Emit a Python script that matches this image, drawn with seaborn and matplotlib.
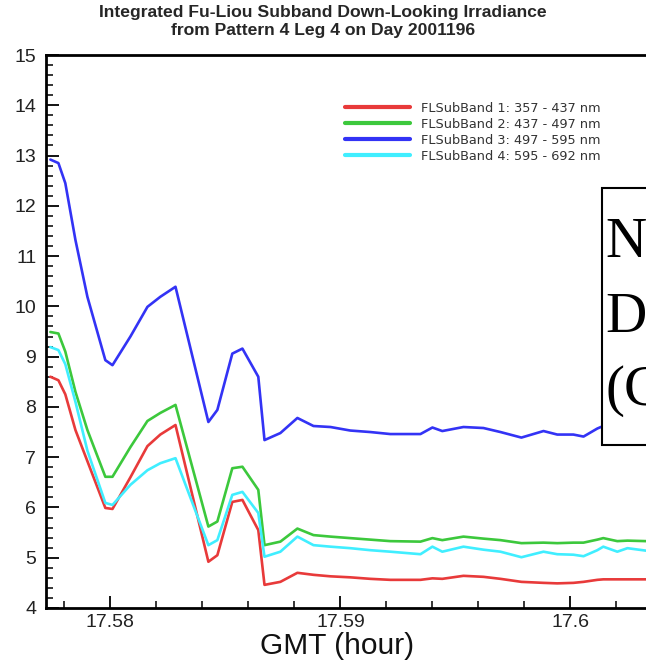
import numpy as np
import pandas as pd
import matplotlib
matplotlib.use('Agg')
import matplotlib.pyplot as plt
import matplotlib.ticker as mticker
from matplotlib.patches import Rectangle
import seaborn as sns

# GMT time (hour) of the samples
gmt = [17.57739, 17.57774, 17.57804, 17.57848, 17.57900, 17.57978, 17.58009,
       17.58087, 17.58161, 17.58217, 17.58283, 17.58426, 17.58465, 17.58530,
       17.58574, 17.58643, 17.58670, 17.58739, 17.58813, 17.58883, 17.58957,
       17.59043, 17.59130, 17.59217, 17.59348, 17.59400, 17.59443, 17.59535,
       17.59622, 17.59696, 17.59787, 17.59883, 17.59943, 17.60013, 17.60057,
       17.60117, 17.60143, 17.60204, 17.60248, 17.60330, 17.60480]

band1 = [8.60, 8.53, 8.25, 7.54, 6.92, 5.99, 5.97, 6.60, 7.22, 7.45, 7.64,
         4.92, 5.05, 6.11, 6.15, 5.55, 4.46, 4.52, 4.70, 4.66, 4.63, 4.61,
         4.58, 4.56, 4.56, 4.59, 4.58, 4.64, 4.62, 4.58, 4.52, 4.50, 4.49,
         4.50, 4.52, 4.56, 4.57, 4.57, 4.57, 4.57, 4.57]
band2 = [9.49, 9.46, 9.10, 8.30, 7.54, 6.61, 6.61, 7.20, 7.72, 7.88, 8.04,
         5.62, 5.72, 6.78, 6.81, 6.35, 5.25, 5.32, 5.58, 5.45, 5.42, 5.39,
         5.36, 5.33, 5.32, 5.39, 5.35, 5.42, 5.38, 5.35, 5.29, 5.30, 5.29,
         5.30, 5.30, 5.36, 5.39, 5.33, 5.34, 5.33, 5.33]
band3 = [12.92, 12.85, 12.45, 11.32, 10.19, 8.93, 8.83, 9.40, 9.99, 10.19,
         10.39, 7.70, 7.94, 9.06, 9.16, 8.60, 7.34, 7.48, 7.78, 7.62, 7.60,
         7.53, 7.50, 7.46, 7.46, 7.59, 7.52, 7.60, 7.58, 7.50, 7.39, 7.52,
         7.45, 7.45, 7.41, 7.57, 7.62, 7.65, 7.62, 7.65, 7.65]
band4 = [9.19, 9.13, 8.85, 8.10, 7.13, 6.09, 6.05, 6.45, 6.74, 6.88, 6.98,
         5.25, 5.35, 6.25, 6.31, 5.89, 5.02, 5.12, 5.42, 5.25, 5.22, 5.19,
         5.15, 5.12, 5.07, 5.22, 5.12, 5.22, 5.16, 5.12, 5.01, 5.12, 5.07,
         5.06, 5.03, 5.15, 5.22, 5.12, 5.19, 5.14, 5.14]

labels = ['FLSubBand 1: 357 - 437 nm', 'FLSubBand 2: 437 - 497 nm',
          'FLSubBand 3: 497 - 595 nm', 'FLSubBand 4: 595 - 692 nm']
colors = ['#e83a3a', '#3cc83c', '#3333f5', '#40eeff']

xticks = [17.58, 17.59, 17.60]
xticklabels = ['17.58', '17.59', '17.6']
yticks = list(range(4, 16))

df = pd.concat([pd.DataFrame({'gmt': gmt, 'irr': v, 'band': lab})
                for v, lab in zip([band1, band2, band3, band4], labels)])

sns.set_theme(style='ticks')
plt.rcParams['font.family'] = ['Liberation Sans', 'DejaVu Sans']

W, H = 646, 667
fig = plt.figure(figsize=(W / 100, H / 100), dpi=100)
# axes run past the right edge of the picture, as in the reference crop
ax = fig.add_axes([46 / W, 59 / H, 690 / W, 553 / H])

sns.lineplot(data=df, x='gmt', y='irr', hue='band', palette=dict(zip(labels, colors)),
             hue_order=labels, estimator=None, sort=False, lw=1.9, ax=ax)

ax.set_xlim(17.5772, 17.6072)
ax.set_ylim(4, 15)
ax.set_xticks(xticks)
ax.set_xticklabels(xticklabels)
ax.set_yticks(yticks)
ax.xaxis.set_minor_locator(mticker.MultipleLocator(0.002))
ax.yaxis.set_minor_locator(mticker.MultipleLocator(0.2))
ax.tick_params(which='both', direction='in', color='black', labelcolor='#222222',
               labelsize=14)
ax.tick_params(which='major', length=9, width=1.3)
ax.tick_params(which='minor', length=5, width=1.1)
ax.tick_params(axis='x', pad=4)
ax.tick_params(axis='y', pad=7)
for s in ['left', 'bottom', 'top']:
    ax.spines[s].set_linewidth(2)
    ax.spines[s].set_color('black')
ax.set_ylabel('')
ax.set_xlabel('GMT (hour)', fontsize=21.5, color='#111111')
ax.xaxis.set_label_coords((337 - 46) / 690, -0.043)

ax.legend(loc='upper left', bbox_to_anchor=(345 / W, 1 - 102 / H),
          bbox_transform=fig.transFigure, frameon=False,
          prop={'family': 'DejaVu Sans', 'size': 9.3},
          handlelength=5.0, handletextpad=0.9, labelspacing=0.22,
          borderpad=0, borderaxespad=0, labelcolor='#333333')
for line in ax.get_legend().get_lines():
    line.set_linewidth(3)

fig.suptitle('Integrated Fu-Liou Subband Down-Looking Irradiance\n'
             'from Pattern 4 Leg 4 on Day 2001196',
             x=0.5, y=1 - 5 / H, va='top', fontsize=12.6, fontweight='bold',
             linespacing=1.25)

# white note box at the right edge
fig.patches.append(Rectangle((602 / W, 1 - 445 / H), 0.2, 257 / H,
                             transform=fig.transFigure, facecolor='white',
                             edgecolor='black', lw=1.5, zorder=5))
for txt, yc in zip(['N', 'D', '(C'], [243, 318, 391]):
    fig.text(605 / W, 1 - yc / H, txt, fontsize=41, family='Liberation Serif',
             va='center', ha='left', color='black', zorder=6)

fig.savefig('out.png', dpi=100)
